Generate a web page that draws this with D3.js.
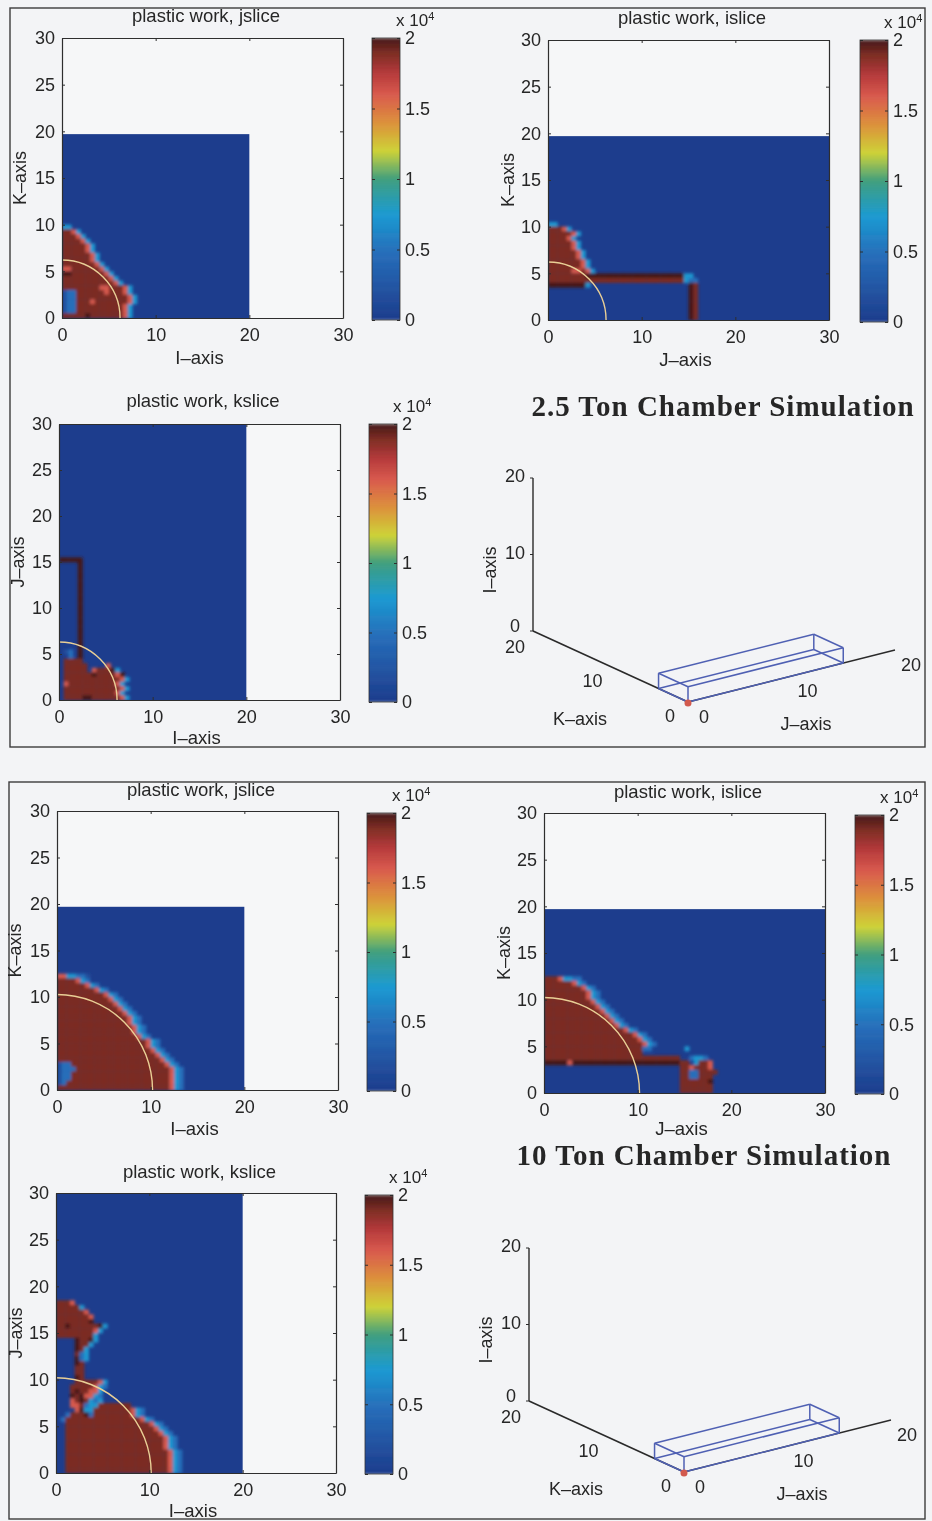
<!DOCTYPE html>
<html>
<head>
<meta charset="utf-8">
<script src="https://cdn.jsdelivr.net/npm/d3@7"></script>
<style>
	body{margin:0;background:#f3f4f6;}
	svg{display:block;filter:blur(0.4px);}
	text{font-family:"Liberation Sans",Arial,sans-serif;fill:#262626;}
</style>
</head>
<body>
<div id="plotdiv"></div>
<script>
// chart values
var chartTitles = ["2.5 Ton Chamber Simulation","10 Ton Chamber Simulation"];
var xTicks = [0,10,20,30];
var yTicks = [0,5,10,15,20,25,30];
var colorbarTicks = [0,0.5,1,1.5,2];
var ticks3d = [0,10,20];

// colour levels, one char per half unit cell in the row strings below
var levelChars = ".123456789#";
var levelValues = [0.02,0.2,0.5,0.75,1,1.2,1.35,1.6,1.75,1.9,2];

var colorStops = [0,0.5,0.75,1,1.2,1.4,1.6,1.75,1.9,2];
var colorRange = ["#1d3b8b","#2670bb","#1a9ad2","#3f9e7f","#cdd238","#dc913a","#d95a4d","#b63a3c","#7b2c22","#451719"];

// rows go top to bottom, last string is the row that sits on the axis
var jslice25Rows = [
	"33",
	"9973",
	"99973",
	"999973",
	"9999973",
	"9999973",
	"99999973",
	"99999973",
	"999999973",
	"7799999973",
	"##999999973",
	"999999999973",
	"9999999999973",
	"999999997799973",
	"122999999799973",
	"1229999999999973",
	"1229997999999973",
	"122999999999973",
	"122999999999973",
	"99999#999999973"
];
var islice25Rows = [
	"33",
	"99973",
	"9999973",
	"999973",
	"9999973",
	"9999973",
	"99999973",
	"99999973",
	"999999973",
	"999999973",
	"9999977973",
	"99999999#####################33",
	"99999999999999999999999999999322",
	"########3.....................#9",
	"..............................#9",
	"..............................#9",
	"..............................#9",
	"..............................#9",
	"..............................#9",
	"..............................#9",
	"..............................#9"
];
var kslice25Rows = [
	"#####",
	"....#","....#","....#","....#","....#","....#","....#","....#","....#",
	"....#","....#","....#","....#","....#","....#","....#","....#",
	"....#",
	"....#",
	".12.#",
	"..2.#",
	".9999",
	".99999....7",
	".99999.7999#3",
	".999999#99997#",
	".99999999999973",
	".7999999999973",
	".99999999999973",
	".9999999999973",
	".9999##99999973"
];
var jslice10Rows = [
	"7733221",
	"9999732",
	"999999732",
	"99999999732",
	"9999999999732",
	"99999999999732",
	"999999999999732",
	"9999999999999732",
	"99999999999999732",
	"999999999999999732",
	"999999999999999732",
	"9999999999999999732",
	"9999999999999999732",
	"99999999999999999732",
	"9999999999999999999732",
	"9999999999999999999732",
	"99999999999999999999732",
	"999999999999999999999732",
	"9999999999999999999999732",
	"12299999999999999999999732",
	"122299999999999999999999732",
	"122999999999999999999999732",
	"122999999999999999999999732",
	"129999999999999999999999732",
	"999999999999999999999999732"
];
var islice10Rows = [
	"99973322",
	"999999732",
	"99999999732",
	"999999999732",
	"999999999732",
	"9999999999732",
	"99999999999732",
	"999999999999732",
	"9999999999999732",
	"99999999999999732",
	"999999999999999732",
	"99999999999999999732",
	"9999999999999999999732",
	"99999999999999999999732",
	"999999999999999999999732",
	"99999999999999999999922.......3",
	"999999999999999999999",
	"99999999999999999999999999999..2332",
	"#####7#######################99.3997",
	".............................9979997",
	".............................99229999",
	".............................9922999",
	".............................999999#",
	".............................9999999",
	".............................9999999"
];
var kslice10Rows = [
	"9997",
	"999993",
	"9999997",
	"99999997",
	"9999999#",
	"99#999999#3",
	"9999999973",
	"999999993",
	"....#99#3",
	"....#993",
	"....#93",
	"....923",
	"....#23",
	"....#9",
	"....99",
	"....99",
	"....#9",
	"....9999973",
	"...99999732",
	"...9#99773",
	"...#9#7732",
	"...79#9323",
	"...7792339999999",
	"....7#3399999999732",
	"..2999#299999999732",
	".29999999999999999732",
	"..999999999999999999732",
	"..9999999999999999999732",
	"..99999999999999999999732",
	"..999999999999999999999732",
	"..999999999999999999999732",
	"..999999999999999999999732",
	"..9999999999999999999999732",
	"..9999999999999999999999732",
	"..9999999999999999999999732",
	"..9999999999999999999999732",
	"..9999999999999999999999732"
];

// outline of the chamber in the 3d views, j / k / i
var boxJ = [0,15];
var boxK = [0,3.8];
var boxI = [0,2];

var color = d3.scaleLinear().domain(colorStops).range(colorRange);
var width = 932;
var height = 1521;
var svg = d3.select("#plotdiv").append("svg").attr("width",width).attr("height",height);

var defs = svg.append("defs");
defs.append("filter").attr("id","smear")
	.attr("filterUnits","userSpaceOnUse")
	.attr("x",0).attr("y",0).attr("width",width).attr("height",height)
	.append("feGaussianBlur").attr("stdDeviation",1.5);

// panel boxes
[[10,8,915,739],[9,782,916,737]].forEach(function(b){
	svg.append("rect").attr("x",b[0]).attr("y",b[1]).attr("width",b[2]).attr("height",b[3])
		.attr("fill","none").attr("stroke","#3c3c3c").attr("stroke-width",1.4);
});

var panels = [
	{rows:jslice25Rows,title:"plastic work, jslice",xLabel:"I–axis",yLabel:"K–axis",x0:62,x1:343,y0:318,y1:38,xMax:20,yMax:19.7,r:6.2,bar:[372,400,320,38],titleY:22,xLabelY:364,yLabelX:26},
	{rows:islice25Rows,title:"plastic work, islice",xLabel:"J–axis",yLabel:"K–axis",x0:548,x1:829,y0:320,y1:40,xMax:30,yMax:19.7,r:6.2,bar:[860,888,322,40],titleY:24,xLabelY:366,yLabelX:514},
	{rows:kslice25Rows,title:"plastic work, kslice",xLabel:"I–axis",yLabel:"J–axis",x0:59,x1:340,y0:700,y1:424,xMax:20,yMax:30,r:6.2,bar:[369,397,702,424],titleY:407,xLabelY:744,yLabelX:24},
	{rows:jslice10Rows,title:"plastic work, jslice",xLabel:"I–axis",yLabel:"K–axis",x0:57,x1:338,y0:1090,y1:811,xMax:20,yMax:19.7,r:10.2,bar:[367,396,1091,813],titleY:796,xLabelY:1135,yLabelX:21},
	{rows:islice10Rows,title:"plastic work, islice",xLabel:"J–axis",yLabel:"K–axis",x0:544,x1:825,y0:1093,y1:813,xMax:30,yMax:19.7,r:10.2,bar:[855,884,1094,815],titleY:798,xLabelY:1135,yLabelX:510},
	{rows:kslice10Rows,title:"plastic work, kslice",xLabel:"I–axis",yLabel:"J–axis",x0:56,x1:336,y0:1473,y1:1193,xMax:20,yMax:30,r:10.2,bar:[365,393,1474,1195],titleY:1178,xLabelY:1517,yLabelX:22}
];

panels.forEach(drawSlice);
draw3d(688,702,chartTitles[0],723,416);
draw3d(684,1472,chartTitles[1],704,1165);

function boxAxis(g,axis,tx,ty,labels,pad)
{
	var a = axis.tickSizeInner(-3).tickSizeOuter(0).tickPadding(pad);
	if(!labels){a = a.tickFormat("");}
	var sel = g.append("g").attr("transform","translate("+tx+","+ty+")").call(a);
	sel.select(".domain").attr("stroke","#2e2e2e").attr("stroke-width",1.2);
	sel.selectAll("line").attr("stroke","#2e2e2e");
	sel.selectAll("text").style("font-size","18px").style("font-family",'"Liberation Sans"').attr("fill","#262626");
	return sel;
}

function drawSlice(p,idx)
{
	var g = svg.append("g");
	var x = d3.scaleLinear().domain([0,30]).range([p.x0,p.x1]);
	var y = d3.scaleLinear().domain([0,30]).range([p.y0,p.y1]);

	g.append("rect").attr("x",p.x0).attr("y",p.y1)
		.attr("width",p.x1-p.x0).attr("height",p.y0-p.y1).attr("fill","#f6f7f8");

	// field, cells are half a unit wide
	var clipId = "clip"+idx;
	defs.append("clipPath").attr("id",clipId).append("rect")
		.attr("x",x(0)).attr("y",y(p.yMax)).attr("width",x(p.xMax)-x(0)).attr("height",y(0)-y(p.yMax));
	g.append("rect").attr("x",x(0)).attr("y",y(p.yMax))
		.attr("width",x(p.xMax)-x(0)).attr("height",y(0)-y(p.yMax))
		.attr("fill",color(levelValues[0]));

	var cells = [];
	p.rows.forEach(function(row,i){
		var v = (p.rows.length-1-i)/2;
		row.split("").forEach(function(c,j){
			if(c != "."){cells.push({u:j/2,v:v,val:levelValues[levelChars.indexOf(c)]});}
		});
	});
	g.append("g").attr("clip-path","url(#"+clipId+")")
		.append("g").attr("filter","url(#smear)")
		.selectAll("rect").data(cells).enter().append("rect")
		.attr("x",function(d){return x(d.u);})
		.attr("y",function(d){return y(d.v+0.5);})
		.attr("width",x(0.5)-x(0)+0.3)
		.attr("height",y(0)-y(0.5)+0.3)
		.attr("fill",function(d){return color(d.val);});

	// yield radius
	g.append("path")
		.attr("transform","translate("+x(0)+","+y(0)+")")
		.attr("d",d3.arc().innerRadius(x(p.r)-x(0)).outerRadius(x(p.r)-x(0)).startAngle(0).endAngle(Math.PI/2)())
		.attr("fill","none").attr("stroke","#e9cf96").attr("stroke-width",1.4);

	// axes
	boxAxis(g,d3.axisBottom(x).tickValues(xTicks),0,p.y0,true,10);
	boxAxis(g,d3.axisLeft(y).tickValues(yTicks),p.x0,0,true,7);
	boxAxis(g,d3.axisTop(x).tickValues(xTicks),0,p.y1,false,5);
	boxAxis(g,d3.axisRight(y).tickValues(yTicks),p.x1,0,false,5);

	g.append("text").attr("x",(p.x0+p.x1)/2+3.5).attr("y",p.titleY).attr("text-anchor","middle")
		.style("font-size","18.5px").text(p.title);
	g.append("text").attr("x",(p.x0+p.x1)/2-3).attr("y",p.xLabelY).attr("text-anchor","middle")
		.style("font-size","18.5px").text(p.xLabel);
	g.append("text").attr("transform","translate("+p.yLabelX+","+(p.y1+(p.y0-p.y1)*0.5)+") rotate(-90)")
		.attr("text-anchor","middle").style("font-size","18px").text(p.yLabel);

	drawColorbar(g,p.bar,idx);
}

function drawColorbar(g,b,idx)
{
	var c = d3.scaleLinear().domain([0,2]).range([b[2],b[3]]);
	var steps = d3.range(64).map(function(d){return d/32;});
	var clipId = "barclip"+idx;
	defs.append("clipPath").attr("id",clipId).append("rect")
		.attr("x",b[0]).attr("y",b[3]).attr("width",b[1]-b[0]).attr("height",b[2]-b[3]);
	g.append("g").attr("clip-path","url(#"+clipId+")")
		.append("g").attr("filter","url(#smear)")
		.selectAll("rect").data(steps).enter().append("rect")
		.attr("x",b[0]-4).attr("width",b[1]-b[0]+8)
		.attr("y",function(d){return c(d+1/32);})
		.attr("height",c(0)-c(1/32)+0.5)
		.attr("fill",function(d){return color(d+1/64);});
	g.append("rect").attr("x",b[0]).attr("y",b[3]).attr("width",b[1]-b[0]).attr("height",b[2]-b[3])
		.attr("fill","none").attr("stroke","#333").attr("stroke-width",0.8);
	boxAxis(g,d3.axisRight(c).tickValues(colorbarTicks).tickFormat(d3.format("~g")),b[1],0,true,5)
		.select(".domain").remove();
	boxAxis(g,d3.axisLeft(c).tickValues(colorbarTicks),b[0],0,false,3)
		.select(".domain").remove();
	var t = g.append("text").attr("x",b[1]-4).attr("y",b[3]-12).style("font-size","17px");
	t.append("tspan").text("x 10");
	t.append("tspan").attr("dy",-6).style("font-size","11px").text("4");
}

function draw3d(ox,oy,title,titleX,titleY)
{
	var g = svg.append("g");
	var jx = d3.scaleLinear().domain([0,20]).range([ox,ox+207]);
	var jy = d3.scaleLinear().domain([0,20]).range([0,-52]);
	var kx = d3.scaleLinear().domain([0,20]).range([0,-155]);
	var ky = d3.scaleLinear().domain([0,20]).range([0,-71]);
	var iy = d3.scaleLinear().domain([0,20]).range([oy,oy-153]);
	function project(j,k,i){return [jx(j)+kx(k),iy(i)+jy(j)+ky(k)];}
	var line = d3.line();

	function seg(a,b,col,w){
		g.append("path").attr("d",line([project(a[0],a[1],a[2]),project(b[0],b[1],b[2])]))
			.attr("fill","none").attr("stroke",col).attr("stroke-width",w);
	}
	// axes
	seg([0,0,0],[20,0,0],"#2a2a2a",1.4);
	seg([0,0,0],[0,20,0],"#2a2a2a",1.6);
	seg([0,20,0],[0,20,20],"#2a2a2a",1.4);

	function label(pos,dx,dy,s){
		g.append("text").attr("x",pos[0]+dx).attr("y",pos[1]+dy).attr("dy","0.35em")
			.attr("text-anchor","middle").style("font-size","18px").text(s);
	}
	ticks3d.forEach(function(t){
		label(project(t,0,0),16,15,t);
		label(project(0,t,0),-18,t==20?16:14,t);
		label(project(0,20,t),-18,t==0?-5:-2,t);
		var a = project(0,20,t);
		g.append("line").attr("x1",a[0]-3).attr("x2",a[0]).attr("y1",a[1]).attr("y2",a[1]).attr("stroke","#2a2a2a");
	});

	// chamber outline
	var blue = "#4f60b3";
	boxJ.forEach(function(j){
		seg([j,boxK[0],boxI[0]],[j,boxK[1],boxI[0]],blue,1.5);
		seg([j,boxK[0],boxI[1]],[j,boxK[1],boxI[1]],blue,1.5);
		seg([j,boxK[0],boxI[0]],[j,boxK[0],boxI[1]],blue,1.5);
		seg([j,boxK[1],boxI[0]],[j,boxK[1],boxI[1]],blue,1.5);
	});
	boxK.forEach(function(k){
		boxI.forEach(function(i){
			seg([boxJ[0],k,i],[boxJ[1],k,i],blue,1.5);
		});
	});
	var o = project(0,0,0);
	g.append("circle").attr("cx",o[0]).attr("cy",o[1]+1).attr("r",3.5).attr("fill","#d25a4e");

	g.append("text").attr("x",ox-108).attr("y",oy+17).attr("dy","0.35em").attr("text-anchor","middle").style("font-size","18px").text("K–axis");
	g.append("text").attr("x",ox+118).attr("y",oy+22).attr("dy","0.35em").attr("text-anchor","middle").style("font-size","18px").text("J–axis");
	g.append("text").attr("transform","translate("+(ox-198)+","+(oy-132)+") rotate(-90)")
		.attr("dy","0.35em").attr("text-anchor","middle").style("font-size","18px").text("I–axis");

	svg.append("text").attr("x",titleX).attr("y",titleY).attr("text-anchor","middle")
		.style("font-family",'"Liberation Serif"').style("font-weight","bold").style("font-size","29px").style("letter-spacing","1px").text(title);
}
</script>
</body>
</html>
